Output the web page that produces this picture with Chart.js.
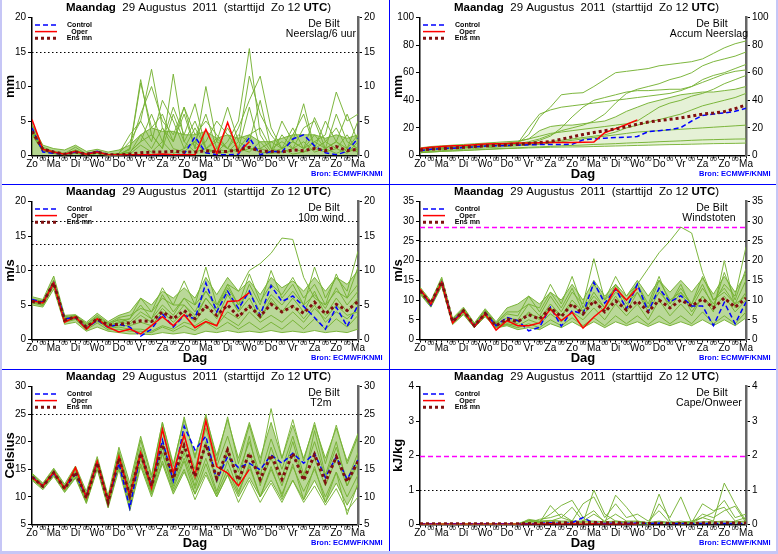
<!DOCTYPE html>
<html>
<head>
<meta charset="utf-8">
<script src="https://cdn.jsdelivr.net/npm/chart.js@4.4.0/dist/chart.umd.min.js"></script>
<style>
body { margin: 0; background: #fff; }
#wrap { position: relative; width: 778px; height: 554px; overflow: hidden; background: #fff; }
#wrap canvas { position: absolute; }
.sep { position: absolute; background: #0000ff; }
.frame { position: absolute; background: #c6c6f6; }
</style>
</head>
<body>
<div id="wrap">
  <canvas id="c0" width="389" height="185" style="left:0;top:0"></canvas>
  <canvas id="c1" width="389" height="185" style="left:388px;top:0"></canvas>
  <canvas id="c2" width="389" height="185" style="left:0;top:184px"></canvas>
  <canvas id="c3" width="389" height="185" style="left:388px;top:184px"></canvas>
  <canvas id="c4" width="389" height="185" style="left:0;top:369px"></canvas>
  <canvas id="c5" width="389" height="185" style="left:388px;top:369px"></canvas>
  <div class="sep" style="left:389px;top:0;width:1px;height:554px"></div>
  <div class="sep" style="left:0;top:184px;width:778px;height:1px"></div>
  <div class="sep" style="left:0;top:369px;width:778px;height:1px"></div>
  <div class="frame" style="left:0;top:0;width:2px;height:554px"></div>
  <div class="frame" style="left:776px;top:0;width:2px;height:554px"></div>
  <div class="frame" style="left:0;top:551px;width:778px;height:3px"></div>
</div>
<script>
// x axis: 12-hourly steps from Zo 12 UTC, 15 days
const dayNames = ['Zo','Ma','Di','Wo','Do','Vr','Za','Zo','Ma','Di','Wo','Do','Vr','Za','Zo','Ma'];
const stepHours = 12;

// Neerslag/6 uur (mm)
const rainCtl  = [4.0,0.5,0.3,0.2,0.5,0.2,0.6,0.1,0.1,0.1,0.1,0.1,0.1,0.1,0.2,2.7,0.4,0.1,0.1,0.2,2.6,0.1,0.6,0.5,2.4,3.0,1.4,0.4,0.1,0.6,2.5];
const rainOper = [5.2,0.9,0.5,0.2,0.6,0.2,0.5,0.1,0.1,0.1,0.1,0.1,0.2,0.1,0.1,0.1,3.8,0.3,4.8,0.4,2.0];
const rainMean = [3.5,0.9,0.5,0.2,0.5,0.2,0.5,0.1,0.1,0.2,0.4,0.5,0.5,0.6,0.5,0.5,0.7,0.5,0.6,0.8,1.2,0.6,0.6,0.5,0.8,0.7,1.0,0.7,1.3,0.7,0.9];
const rainHi   = [4.5,1.5,1.0,0.8,1.5,0.6,0.9,0.5,0.8,1.5,3,4,3.5,3.5,3,3,3.5,2.5,3,2.5,3,2,2,2.5,3,3,3,2.5,3,2.5,3];
const rainMembers = [
  [3.5,0.8,0.3,0.1,0.4,0.1,0.3,0,0,0.2,1.5,0.5,2,0.3,1,4,1,0.5,2,5,15.5,3,0.5,1,0.2,0.5,2,1,0.3,1,0.5],
  [4,1,0.5,0.2,0.8,0.2,0.5,0.1,0.3,2,5,12.5,4,1,0.5,2,0.3,1,0.5,2,1,0.5,0.3,3,1,0.5,1,0.5,1,0.3,2],
  [3,0.6,0.4,0.1,0.5,0.3,0.6,0.2,0.1,1,11,3,1,11.8,2,0.5,1,0.3,0.5,1,0.5,2,0.3,0.5,1,2,0.5,1,2,0.5,1],
  [4.5,1.2,0.6,0.3,1.2,0.2,0.4,0.1,0.2,0.5,2,6,2,7,3,7.5,1,2,7,2,11.5,6,3,1,2,7.5,1,5,2,1,3],
  [3.2,0.7,0.3,0.1,0.6,0.1,0.3,0,0,0.3,3,1,4,2,6,1,10,2,1,0.5,1,1,2,1,4,1,2,3,9.2,5,6],
  [3.6,0.9,0.5,0.2,0.4,0.2,0.5,0.1,0.2,0.8,10.5,4,6,2,7,3,5,3,1,3,2,8,1,2,1,4,5,1,2,6,2],
  [3.8,1,0.4,0.2,0.7,0.2,0.5,0.1,0.3,3,5,2,8,5,1,2,6,1,4,1,7,1,0.5,5,2,1,5.5,2,4,1,5],
  [3,0.7,0.3,0.1,0.3,0.1,0.3,0,0.1,1,6,10,5,3,7,1,2,5,3,1,3,4,1,0.5,3,6,1,2,1,3,0.5],
  [3.3,0.9,0.5,0.1,0.8,0.2,0.4,0.1,0.1,0.5,2,3,1,6,2,5,1,2.5,1,4,8,11.5,4,1,2,1,3,1,6,2,1]
];

// Accum Neerslag (mm)
const accumCtl  = [3.5,4.5,5,5.3,5.8,6.3,6.8,7,7.2,7.5,7.8,7.9,8,8,8.1,11.3,12,12.5,13,13.2,13.8,17.3,18,18.8,20.2,25,29,30,30.8,32,34.2];
const accumOper = [5,6,6.5,7,7.2,7.8,8.3,8.5,8.7,9,9,9.2,9.4,9.5,9.5,9.6,9.8,16.5,19.5,22.5,25.8];
const accumMean = [4,4.6,5,5.5,6,6.5,7,7.3,7.7,8.2,8.7,9.4,10.1,11.8,13.5,15.2,16.6,18,19.2,20.8,22.7,24.2,25.3,26.2,27.2,28.6,30,30.8,31.8,34,36.6];
const accumLo   = [2,2.5,3,3.3,3.6,4,4.3,4.6,5,5.2,5.5,5.7,6,6.1,6.2,6.3,6.5,6.7,6.9,7.1,7.3,7.5,7.7,7.9,8,8.2,8.4,8.6,8.7,8.8,9];
const accumHi   = [5.5,6.5,7,7.5,8,8.5,9,9.5,10,10.5,12,18,21,22,22,23,24,25,28,32,35,38,40,42,44,45,46,46,47,48,50];
const accumMembers = [
  [4,5,5.5,6,6.5,7,7.5,8,8.5,9,15,28,35,44,45,45.5,50,55,60,61,62,63,65,66,67,68,70,74,78,81,83],
  [3.5,4.5,5,5.5,6,6.5,7,7.5,8,8.5,10,12,15,18,20,22,25,30,38,45,48,50,52,55,57,60,65,68,70,72,75],
  [3,4,4.5,5,5.5,6,6.5,7,7.5,8,9,11,14,20,28,35,40,42,44,46,47,47,47.5,48,48,50,55,58,60,63,66],
  [4.5,5.5,6,6.5,7,7.5,8,8.5,9,10,12,14,16,17,18,19,20,21,22,23,25,30,35,38,40,43,45,48,52,55,58],
  [3,4,4.5,5,5.5,6,6.5,7,7.5,8,8.5,9,10,11,12,13,14,15,17,20,22,24,26,28,30,33,36,38,40,42,45],
  [2.5,3,3.5,4,4.5,5,5.5,6,6.5,7,7.5,8,9,10,11,12,13,14,15,16,17,17.5,18,18.5,19,19.5,20,20.5,21,21.5,22],
  [2,2.5,3,3.3,3.6,4,4.5,5,5.3,5.6,6,6.3,6.6,7,7.3,7.6,8,8.3,8.6,9,9.3,9.6,10,10.3,10.6,11,11.3,11.5,11.7,11.9,12],
  [3.8,4.8,5.3,5.8,6.3,6.8,7.3,7.8,8.3,8.8,20,30,33,35,36,37,38,39,40,41,42,43,44,45,47,50,53,56,59,61,62]
];

// 10m wind (m/s)
const windCtl  = [5.8,5.4,8.2,3,3.2,1.6,2.8,1.8,2.2,1.8,0.5,1.5,3.7,1.8,3.5,3,8.2,4,7,4.5,7,3.5,7.8,5.5,6.3,4.8,3.2,1.5,4.7,1.9,5];
const windOper = [5.6,5.3,8.2,2.5,3.3,1.5,3,1.8,1.1,1.5,0.8,2,3.3,2,3.6,1.7,2.6,2,5.5,5.6,6.8];
const windMean = [5.5,5.3,8.2,2.8,3.3,1.8,3,2.1,2.2,2.4,2.7,2.6,4,3,4.2,3,4.8,3.5,5,3.3,4.8,3.4,5.1,4,4.8,3.8,5.4,3.7,5.1,4.2,5.5];
const windLo   = [5,4.7,7.3,2.2,2.5,1.2,1.8,1.2,1,0.8,0.8,0.7,1,0.8,1,0.7,1.2,1,1.3,1,1.2,1,1.3,1,1.2,1,1.3,1,1.2,1,1.5];
const windHi   = [6.2,5.8,9.2,3.5,3.6,2.5,3.8,2.6,3.5,4,6,5,7,6,7.5,6,9,6.5,9,7,8.5,6.5,9,7.5,8.5,7,9,7,9,8,10];
const windMembers = [
  [5.6,5.2,8.3,3,3.4,2,3.2,2,3,2.5,4,3,5,3.5,6,4,7,5,8,7,10,11,12.5,14.7,14.5,9,6,5,7,6,8],
  [5.8,5.5,8.5,3.2,3.2,2.2,3.5,2.4,2.8,3,5,3,6.5,4,6,5,10.5,5,7,4,8,5,10,6,8,5,10.5,6,9,7,12.8],
  [5.4,5,8,2.7,3,1.7,2.6,1.8,2,2,2.5,2,4,2.5,4,2.5,5,3,6.5,4,6,3,5.5,4,6,4,7,3.5,6,4,6],
  [5.7,5.4,8.3,2.9,3.4,1.9,3.1,2.1,2.4,3,6,4,7.5,5,5,3,6,4,3,2,4,2.5,3.5,2.5,4,2.5,4.5,3,5,3.5,4],
  [5.5,5.1,7.9,2.6,3.1,1.5,2.8,1.6,1.8,1.5,1.5,1.2,2,1.5,2.5,2,3,2,4,3,5,3,6,4,5,3,5,2.5,4,3,4.5],
  [5.9,5.6,8.6,3.3,3.5,2.3,3.3,2.3,3.2,3.5,4.5,4,6,5,8.5,5,7,4.5,8,5,9.5,5.5,8,6.5,9,6,8,5,9.5,6,10.5],
  [5.3,4.9,7.8,2.5,2.9,1.4,2.4,1.4,1.5,1.2,1.2,1,1.8,1.2,2,1.3,2.5,1.5,2.5,1.5,2.5,1.4,2.5,1.5,2.8,1.5,3,1.5,3,1.8,3.5],
  [5.6,5.3,8.1,2.8,3.2,1.7,3,1.9,2.6,2.2,3.5,2.5,4.5,3,5,3.5,6,4,7.5,5,7,4,6.5,5,7,5,6.5,4.5,7.5,5,7]
];

// Windstoten (m/s)
const gustCtl  = [12.6,8.7,14.5,4.5,7.3,3.3,6.8,3.5,5.6,4.8,2.2,3.1,8.2,3.4,7.3,6.5,14.5,9.2,12.8,7.8,14,7,13,9.5,11.1,8.5,8.5,3.5,9.4,4,9.5];
const gustOper = [12.8,9,14.5,4.2,7.2,3.3,6.5,2.4,4.8,3.5,3.5,4.2,7.7,4.8,6.9,2.9,5.7,8,13,10,13];
const gustMean = [12.3,9.2,14.7,4.5,7.3,3.5,6.6,3.5,5.2,4.5,6.3,5.2,8,5.8,9,6.5,9.8,7,9.8,7.5,9.8,7,10,8,10,8.5,10.3,8,10.5,8.2,10.5];
const gustLo   = [11.5,8.2,13.5,3.8,6.3,3,5.8,2.9,3.5,2.5,3,2.5,4,3,4.5,3,4.5,3,4.5,3.5,4.5,3.3,4.5,3.5,4.5,3.5,5,3.5,5,3.5,5.5];
const gustHi   = [13.3,9.8,15.8,5.4,8.2,4.2,7.8,4.5,8,9,11,9,12,10,14,10,15,11,14,11,15,11,15,12,15,12,15.5,11.5,16,12,17];
const gustMembers = [
  [12.5,8.9,14.6,4.4,7.1,3.3,6.7,3.3,4.5,4,7,5,9,6,10,7,12,8,12,10,14,18,22,25,28.5,27,17,10,12,9,11],
  [12.8,9.3,15,4.8,7.5,3.6,7,3.8,5.5,5,9,6,11,7,12,9,20.5,10,13,8,14,9,16,9,14,8,13,9,14,11,23.5],
  [12,8.5,14.2,4.2,7,3.2,6.2,3.2,4,3.5,5,4,6.5,4.5,7,5,8,5,9,6,9,5,10,6,9,6,11,7,20,8,12],
  [12.6,9,14.8,4.7,7.6,3.8,7.2,4,6.5,6,11,7,12,8,13,7,11,8,14,9,12,7,12,9,13,9,16,10,13,9,15],
  [11.8,8.3,13.8,4,6.6,3,5.9,3,3.8,3,4,3,5,3.5,5.5,3.5,5.5,3.5,6,4,6,3.8,6,4,6,4,7,4,6,4,7],
  [12.9,9.5,15.3,5,7.9,4,7.5,4.2,7,7,9,8,14,9,16,8,14,10,16,11,14,8,15,10,12,9,14,8,17,10,18],
  [12.2,8.8,14.4,4.3,7.2,3.3,6.4,3.3,4.8,4.5,6.5,5.5,8,6,9,6,10,7,11,7,12,8,13,8,12,7,11,8,11,7,10]
];

// T2m (Celsius)
const tempCtl  = [13.7,12,14.3,11.6,14.1,10.1,16.3,9.3,16.1,8,18,11.9,20.3,12.9,22.8,18.5,21,13,17.3,15.3,16.1,14.9,17.6,16.1,17.9,16.1,17.9,13.5,17.3,13.2,16.7];
const tempOper = [13.5,12,14.5,11.5,15.3,9.9,16.4,9.2,17.3,10.2,18,11.6,22.3,14.4,21.3,13.8,23.8,15.5,14.3,12,15];
const tempMean = [13.6,11.9,14.4,11.5,14.5,9.8,16.2,9.1,17,10.2,17.9,12,19.5,13.3,19.3,13.7,19.5,13.4,18.5,13,17.9,13.2,17.6,13.2,17.9,13,17.7,12.7,17.3,12.7,16.4];
const tempLo   = [13,11.3,13.7,10.8,13.4,8.8,15,8,15,7.5,15.5,10,16,10.5,14.5,10.5,14.5,10,14,10,13.5,10,13,9.5,13,9.5,13,9,12.5,8.5,12];
const tempHi   = [14.3,12.5,15.2,12.3,15.6,11,17.3,10.2,19,12.5,21,14,23.5,16,24,17.5,24.5,17.5,24,17,23.5,17,23.5,17,23,17,23,17,22.5,16.5,21.5];
const tempMembers = [
  [14.1,12.3,15,12,15.3,10.5,16.8,9.8,18.2,11.5,20.3,13.5,23.5,15.5,24.5,17,25,16.5,24.5,16,23,16,26,17,24,16.5,23.5,16,23,16,21],
  [13.2,11.6,13.9,11,13.6,9,15.2,8.3,15.5,8.3,16,10.5,16.5,11,15,9.5,14,10,14,9,13,9,12.5,9,13,9,12,8.5,11.5,7.5,10],
  [13.6,11.9,14.5,11.6,14.6,9.6,16,9,17.2,10,18,12,20,13,19,13,20,12.5,19,12,18,12.5,17,12,18,13,17,12,17,12,16],
  [13.9,12.1,14.7,11.8,14.9,10.2,16.6,9.5,17.8,10.8,19,12.5,22,14,21,15,22.5,15.5,21,14.5,20,14,20.5,15,21,14,20,13.5,19,13,18],
  [13.4,11.8,14.2,11.3,14.2,9.4,15.6,8.8,16.5,9.5,17,11,18,12,17,11.5,17,11,16.5,11,15.5,10,15,10.5,15.5,11,15,10,14.5,10,14],
  [13.7,12,14.4,11.5,14.4,9.8,16.3,9.2,16.8,10.5,18.5,11.5,19,12.5,18,12,19.5,13,18,13,21,12,19,13.5,20,13,22,14,20,12,17],
  [13.5,11.7,14.1,11.2,14,9.3,15.8,8.6,16.2,9,17.3,10.8,17.8,11.5,16.5,10.5,16,10.5,15,10.5,16,10,15.5,10,16,9.5,15.5,9,14.5,6.8,12.5]
];

// Cape/Onweer (kJ/kg)
const capeCtl  = [0.02,0.02,0.02,0.02,0.02,0.02,0.02,0.02,0.02,0.02,0.02,0.03,0.05,0.03,0.05,0.2,0.04,0.03,0.04,0.03,0.04,0.03,0.04,0.03,0.03,0.03,0.03,0.03,0.03,0.03,0.03];
const capeOper = [0.01,0.01,0.01,0.01,0.01,0.01,0.01,0.01,0.01,0.01,0.01,0.01,0.02,0.01,0.02,0.01,0.02,0.01,0.01,0.01,0.01];
const capeMean = [0.02,0.02,0.02,0.02,0.02,0.02,0.02,0.02,0.02,0.02,0.03,0.03,0.04,0.05,0.05,0.05,0.06,0.05,0.05,0.04,0.04,0.03,0.04,0.03,0.03,0.03,0.04,0.04,0.05,0.04,0.04];
const capeHi   = [0.03,0.03,0.03,0.03,0.03,0.03,0.03,0.03,0.03,0.03,0.12,0.1,0.12,0.1,0.1,0.1,0.1,0.08,0.1,0.08,0.08,0.06,0.08,0.06,0.06,0.06,0.08,0.08,0.1,0.08,0.1];
const capeMembers = [
  [0,0,0,0,0,0,0,0,0,0,0.1,0.05,0.55,0.2,0.1,0.05,1.0,0.3,0.1,0.05,0,0,0.88,0.1,0,0.05,0.2,0.1,1.2,0.6,0.1],
  [0,0,0,0,0,0,0,0,0,0,0.15,0.1,0.3,0.55,0.7,0.2,0.4,0.05,0.85,0.5,0.1,0,0.6,0.2,0.8,0.05,0.6,0.4,0.5,0.1,0.2],
  [0,0,0,0,0,0,0,0,0,0,0.05,0.15,0.2,0.3,0.1,0.6,0.8,0.2,0.6,0.2,0.3,0.1,0.4,0.05,0.1,0.05,0.3,0.2,0.4,0.53,0.05],
  [0,0,0,0,0,0,0,0,0,0,0.12,0.08,0.1,0.2,0.5,0.1,0.3,0.1,0.3,0.1,0.1,0.05,0.1,0.05,0.05,0.1,0.2,0.35,0.7,0.2,0.3]
];

const FAM = '"Liberation Sans", Arial, Helvetica, sans-serif';
Chart.defaults.font.family = FAM;
Chart.defaults.color = '#000';

const GREEN = 'rgba(118,178,52,0.95)';

function pts(vals) {
  return vals.map((v, i) => ({ x: i * stepHours, y: v }));
}

function makePlugin(p) {
  return {
    id: 'meteo',
    beforeDatasetsDraw(chart) {
      const { ctx, chartArea: a } = chart;
      const y = chart.scales.y;
      ctx.save();
      p.dotted.forEach(v => {
        const py = Math.round(y.getPixelForValue(v)) + 0.5;
        ctx.strokeStyle = '#000';
        ctx.lineWidth = 1.2;
        ctx.setLineDash([1.5, 2.5]);
        ctx.beginPath(); ctx.moveTo(a.left, py); ctx.lineTo(a.right, py); ctx.stroke();
      });
      p.alarm.forEach(v => {
        const py = Math.round(y.getPixelForValue(v)) + 0.5;
        ctx.strokeStyle = '#ff00ff';
        ctx.lineWidth = 1.5;
        ctx.setLineDash([5, 3]);
        ctx.beginPath(); ctx.moveTo(a.left, py); ctx.lineTo(a.right, py); ctx.stroke();
      });
      ctx.restore();
    },
    afterDraw(chart) {
      const { ctx, chartArea: a } = chart;
      ctx.save();
      ctx.setLineDash([]);
      ctx.fillStyle = '#000';
      ctx.textBaseline = 'middle';

      // title, mixed weights
      const parts = [['Maandag', 'bold'], ['  29 Augustus  2011  (starttijd  Zo 12 ', 'normal'], ['UTC', 'bold'], [')', 'normal']];
      const size = 11.5;
      let natural = 0, chars = 0;
      ctx.letterSpacing = '0px';
      parts.forEach(([t, w]) => { ctx.font = w + ' ' + size + 'px ' + FAM; natural += ctx.measureText(t).width; chars += t.length; });
      const sp = Math.max(0, (258 - natural) / chars);
      ctx.letterSpacing = sp + 'px';
      let tx = (a.left + a.right) / 2 - 129;
      ctx.textAlign = 'left';
      parts.forEach(([t, w]) => {
        ctx.font = w + ' ' + size + 'px ' + FAM;
        ctx.fillText(t, tx, 8);
        tx += ctx.measureText(t).width;
      });

      // legend
      ctx.letterSpacing = '0px';
      const rows = [
        ['Control', '#0000ff', 1.5, [5, 3]],
        ['Oper', '#ff0000', 1.5, []],
        ['Ens mn', '#801010', 3, [3, 3]]
      ];
      rows.forEach(([label, col, lw, dash], k) => {
        const ly = a.top + 7.5 + k * 6.6;
        ctx.strokeStyle = col; ctx.lineWidth = lw; ctx.setLineDash(dash);
        ctx.beginPath(); ctx.moveTo(a.left + 3, ly); ctx.lineTo(a.left + 25, ly); ctx.stroke();
        ctx.font = 'bold 7px ' + FAM;
        ctx.textAlign = 'center';
        ctx.fillStyle = '#000';
        ctx.fillText(label, a.left + 47.5, ly);
      });
      ctx.setLineDash([]);

      // station and parameter
      ctx.font = '10.5px ' + FAM;
      ctx.letterSpacing = '0.1px';
      ctx.textAlign = 'center';
      ctx.fillText('De Bilt', a.left + 292, a.top + 6.5);
      ctx.fillText(p.name, a.left + 289, a.top + 17);

      // source
      const bron = 'Bron: ECMWF/KNMI';
      ctx.font = 'bold 7.5px ' + FAM;
      ctx.letterSpacing = '0px';
      const bw = ctx.measureText(bron).width;
      ctx.letterSpacing = Math.max(0, (62 - bw) / bron.length) + 'px';
      ctx.fillStyle = '#0000ff';
      ctx.textAlign = 'left';
      ctx.fillText(bron, a.right + 15 - 62, 174);
      ctx.restore();
    }
  };
}

function xTickFont(c) {
  const v = c.tick ? c.tick.value : 0;
  return v % 24 === 12 ? { family: FAM, size: 6, lineHeight: 0.1 } : { family: FAM, size: 10, lineHeight: 1 };
}

function makePanel(id, p) {
  const datasets = [
    { label: 'Ens mn', data: pts(p.mean), borderColor: '#801010', borderWidth: 3, borderDash: [3, 3] },
    { label: 'Oper', data: pts(p.oper), borderColor: '#ff0000', borderWidth: 1.5 },
    { label: 'Control', data: pts(p.ctl), borderColor: '#0000ff', borderWidth: 1.5, borderDash: [5, 3] }
  ];
  p.members.forEach((m, k) => datasets.push({ label: 'lid ' + (k + 1), data: pts(m), borderColor: GREEN, borderWidth: 1 }));
  datasets.push({ label: 'boven', data: pts(p.hi), borderColor: GREEN, borderWidth: 1,
    backgroundColor: p.bandColor, fill: p.lo ? '+1' : 'origin' });
  if (p.lo) datasets.push({ label: 'onder', data: pts(p.lo), borderColor: GREEN, borderWidth: 1 });
  datasets.forEach(d => { d.pointRadius = 0; d.tension = 0; if (d.fill === undefined) d.fill = false; });

  const yTicks = { stepSize: p.step, color: '#000', font: { family: FAM, size: 10 }, padding: 2 };
  new Chart(document.getElementById(id), {
    type: 'line',
    data: { datasets },
    plugins: [makePlugin(p)],
    options: {
      responsive: false,
      animation: false,
      layout: { padding: { top: 17.5, left: 0, right: 0, bottom: 0 } },
      plugins: { legend: { display: false }, tooltip: { enabled: false } },
      scales: {
        x: {
          type: 'linear', min: 0, max: 360,
          ticks: {
            stepSize: 6, autoSkip: false, maxRotation: 0, minRotation: 0, padding: 1, color: '#000',
            font: xTickFont,
            callback: v => (v % 24 === 0 ? dayNames[v / 24] : (v % 24 === 12 ? '00' : ''))
          },
          grid: { drawOnChartArea: false, color: '#000', tickLength: 3 },
          border: { color: '#000', width: 1.5 },
          title: { display: true, text: 'Dag', color: '#000', font: { family: FAM, size: 13, weight: 'bold' }, padding: { top: 0, bottom: 3 } },
          afterFit: s => { s.height = 29.5; }
        },
        y: {
          position: 'left', min: p.min, max: p.max,
          ticks: yTicks,
          grid: { drawOnChartArea: false, color: '#000', tickLength: 4 },
          border: { color: '#000', width: 1.5 },
          title: { display: true, text: p.unit, color: '#000', font: { family: FAM, size: 13, weight: 'bold' }, padding: { top: 3, bottom: 0 } },
          afterFit: s => { s.width = 32; }
        },
        y2: {
          position: 'right', min: p.min, max: p.max,
          ticks: yTicks,
          grid: { drawOnChartArea: false, color: '#000', tickLength: 4 },
          border: { color: '#666', width: 2.5 },
          afterFit: s => { s.width = 31; }
        }
      }
    }
  });
}

makePanel('c0', { name: 'Neerslag/6 uur', unit: 'mm', min: 0, max: 20, step: 5,
  ctl: rainCtl, oper: rainOper, mean: rainMean, lo: null, hi: rainHi, members: rainMembers,
  bandColor: 'rgba(118,178,52,0.55)', dotted: [15], alarm: [] });
makePanel('c1', { name: 'Accum Neerslag', unit: 'mm', min: 0, max: 100, step: 20,
  ctl: accumCtl, oper: accumOper, mean: accumMean, lo: accumLo, hi: accumHi, members: accumMembers,
  bandColor: 'rgba(150,200,90,0.25)', dotted: [], alarm: [] });
makePanel('c2', { name: '10m wind', unit: 'm/s', min: 0, max: 20, step: 5,
  ctl: windCtl, oper: windOper, mean: windMean, lo: windLo, hi: windHi, members: windMembers,
  bandColor: 'rgba(118,178,52,0.5)', dotted: [10.8, 13.9, 17.2], alarm: [] });
makePanel('c3', { name: 'Windstoten', unit: 'm/s', min: 0, max: 35, step: 5,
  ctl: gustCtl, oper: gustOper, mean: gustMean, lo: gustLo, hi: gustHi, members: gustMembers,
  bandColor: 'rgba(118,178,52,0.5)', dotted: [20, 25], alarm: [28.5] });
makePanel('c4', { name: 'T2m', unit: 'Celsius', min: 5, max: 30, step: 5,
  ctl: tempCtl, oper: tempOper, mean: tempMean, lo: tempLo, hi: tempHi, members: tempMembers,
  bandColor: 'rgba(118,178,52,0.5)', dotted: [25], alarm: [] });
makePanel('c5', { name: 'Cape/Onweer', unit: 'kJ/kg', min: 0, max: 4, step: 1,
  ctl: capeCtl, oper: capeOper, mean: capeMean, lo: null, hi: capeHi, members: capeMembers,
  bandColor: 'rgba(118,178,52,0.6)', dotted: [1], alarm: [2] });
</script>
</body>
</html>
